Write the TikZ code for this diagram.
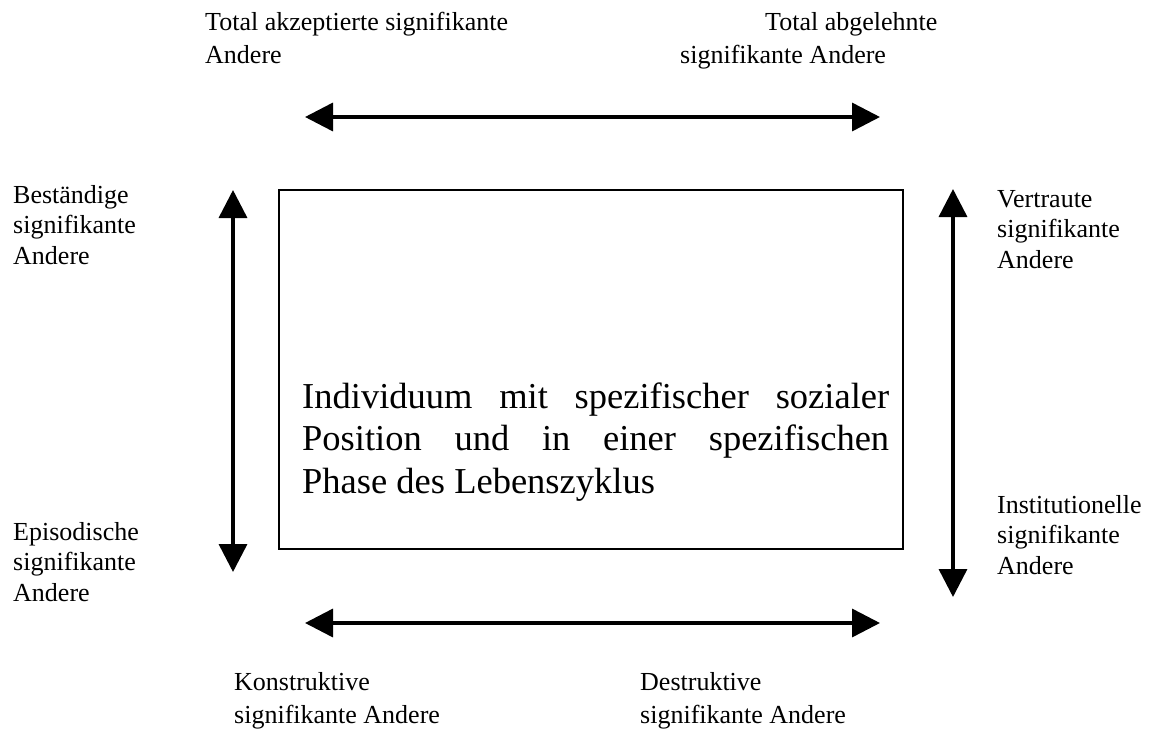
\documentclass[tikz,border=0pt]{standalone}
\usepackage{fontspec}
\setmainfont{Liberation Serif}
\usetikzlibrary{arrows.meta}
\tikzset{
  lbl/.style={anchor=base west, inner sep=0pt, align=left, font=\fontsize{26}{30.5}\selectfont},
  toplbl/.style={lbl, font=\fontsize{26}{33}\selectfont},
  dbl/.style={line width=3.5pt, {Triangle[length=28pt,width=28pt]}-{Triangle[length=28pt,width=28pt]}},
  frame/.style={draw, line width=2pt, inner sep=0pt, minimum width=624pt, minimum height=359pt},
  bigtext/.style={anchor=base west, inner sep=0pt, text width=587pt, align=justify, font=\fontsize{36.5}{42.5}\selectfont}
}
\begin{document}
\begin{tikzpicture}[x=1pt,y=-1pt]
\useasboundingbox (0,0) rectangle (1152,731);
% central box
\node[frame] (box) at (591,369.5) {};
\node[bigtext] (txt) at (302,408) {Individuum mit spezifischer sozialer\linebreak Position und in einer spezifischen\linebreak Phase des Lebenszyklus};
% arrow end points
\coordinate (tl) at (305,117);
\coordinate (tr) at (880,117);
\coordinate (bl) at (305,623);
\coordinate (br) at (880,623);
\coordinate (lt) at (233,190);
\coordinate (lb) at (233,572);
\coordinate (rt) at (953,189);
\coordinate (rb) at (953,597);
\draw[dbl] (tl) -- (tr);
\draw[dbl] (bl) -- (br);
\draw[dbl] (lt) -- (lb);
\draw[dbl] (rt) -- (rb);
% labels (anchored at the baseline of their last line)
\node[toplbl] (ta) at (205,63) {Total akzeptierte signifikante\\Andere};
\node[toplbl] (tb) at (680,63) {\hspace*{85pt}Total abgelehnte\\signifikante Andere};
\node[lbl] (be) at (13,264) {Beständige\\signifikante\\Andere};
\node[lbl] (ep) at (13,601) {Episodische\\signifikante\\Andere};
\node[lbl] (ve) at (997,268) {Vertraute\\signifikante\\Andere};
\node[lbl] (in) at (997,574) {Institutionelle\\signifikante\\Andere};
\node[toplbl] (ko) at (234,723) {Konstruktive\\signifikante Andere};
\node[toplbl] (de) at (640,723) {Destruktive\\signifikante Andere};
\end{tikzpicture}
\end{document}
